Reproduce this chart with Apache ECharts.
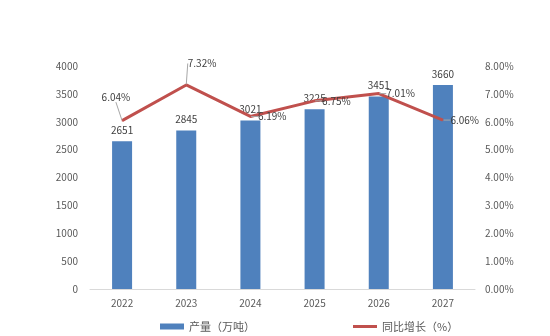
<!DOCTYPE html>
<html><head><meta charset="utf-8">
<script src="https://cdn.jsdelivr.net/npm/echarts@6/dist/echarts.min.js"></script>
<style>html,body{margin:0;padding:0;background:#fff}#c{width:550px;height:336px}</style>
</head><body><div id="c"></div>
<script>
const categories = ['2022','2023','2024','2025','2026','2027'];
const production = [2651, 2845, 3021, 3225, 3451, 3660];
const growth = [6.04, 7.32, 6.19, 6.75, 7.01, 6.06];
const leftTicks = {min: 0, max: 4000, interval: 500};
const rightTicks = {min: 0, max: 8, interval: 1};
const seriesNames = ['产量（万吨）', '同比增长（%）'];

const font = '"Noto Sans CJK SC", "Liberation Sans", sans-serif';
const chart = echarts.init(document.getElementById('c'));
chart.setOption({
  animation: false,
  textStyle: {fontFamily: font},
  grid: {left: 90, right: 75, top: 66, bottom: 47},
  legend: {
    data: [{name: seriesNames[0], icon: 'rect'},
           {name: seriesNames[1], icon: 'path://M0,0L24,0L24,3L0,3Z'}],
    left: 155, top: 316, itemGap: 98, itemWidth: 24, itemHeight: 6,
    textStyle: {color: '#595959', fontSize: 11, fontFamily: font}
  },
  xAxis: {
    type: 'category', data: categories,
    axisLine: {lineStyle: {color: '#d9d9d9'}},
    axisTick: {show: false},
    axisLabel: {color: '#595959', fontSize: 10, margin: 9}
  },
  yAxis: [
    {type: 'value', min: leftTicks.min, max: leftTicks.max, interval: leftTicks.interval,
     splitLine: {show: false}, axisLine: {show: false}, axisTick: {show: false},
     axisLabel: {color: '#595959', fontSize: 10, margin: 12, formatter: v => String(v)}},
    {type: 'value', min: rightTicks.min, max: rightTicks.max, interval: rightTicks.interval,
     splitLine: {show: false}, axisLine: {show: false}, axisTick: {show: false},
     axisLabel: {color: '#595959', fontSize: 10, margin: 10, formatter: v => v.toFixed(2) + '%'}}
  ],
  series: [
    {name: seriesNames[0], type: 'bar', data: production, barWidth: 20,
     itemStyle: {color: '#4f81bd'},
     label: {show: true, position: 'top', distance: 6, color: '#404040', fontSize: 10}},
    {name: seriesNames[1], type: 'line', yAxisIndex: 1, data: growth,
     symbol: 'circle', symbolSize: 1, showSymbol: true,
     lineStyle: {color: '#c0504d', width: 3}, itemStyle: {color: '#c0504d'},
     label: {show: true, position: 'right', distance: 7, color: '#404040', fontSize: 10,
       formatter: p => p.value.toFixed(2) + '%'},
     labelLine: {show: true, lineStyle: {color: '#a6a6a6', width: 1}},
     labelLayout: function (p) {
       if (p.dataIndex === 0) return {x: p.rect.x - 20, y: p.rect.y - 28};
       if (p.dataIndex === 1) return {x: p.rect.x + 2, y: p.rect.y - 26};
       return {};
     }}
  ]
});
</script></body></html>
